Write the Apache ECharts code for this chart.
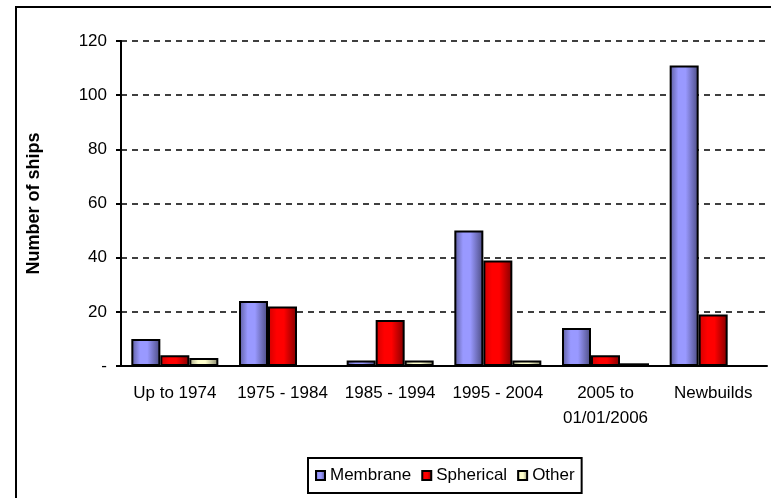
<!DOCTYPE html>
<html lang="en">
<head>
    <meta charset="UTF-8">
    <title>Number of ships</title>
    <script src="https://cdn.jsdelivr.net/npm/echarts@6/dist/echarts.min.js"></script>
    <style>
        html, body { margin: 0; padding: 0; background: #fff; }
        #main { width: 771px; height: 498px; }
    </style>
</head>
<body>
<div id="main"></div>
<script type="text/javascript">
    var categories = ['Up to 1974', '1975 - 1984', '1985 - 1994', '1995 - 2004', '2005 to\n01/01/2006', 'Newbuilds'];
    var membrane = [10, 24, 2, 50, 14, 111];
    var spherical = [4, 22, 17, 39, 4, 19];
    var other = [3, 0, 2, 2, 1, 0];

    var FONT = '"Liberation Sans", Arial, sans-serif';

    function shade(edgeL, mid, edgeR) {
        return new echarts.graphic.LinearGradient(0, 0, 1, 0, [
            {offset: 0, color: edgeL},
            {offset: 0.3, color: mid},
            {offset: 0.55, color: mid},
            {offset: 1, color: edgeR}
        ]);
    }

    function barSeries(name, data, fill) {
        return {
            name: name,
            type: 'bar',
            data: data,
            barWidth: 29,
            barGap: '0%',
            itemStyle: {color: fill, borderColor: '#000', borderWidth: 2}
        };
    }

    var myChart = echarts.init(document.getElementById('main'));
    var option = {
        animation: false,
        textStyle: {fontFamily: FONT, color: '#000'},
        graphic: [{
            type: 'rect',
            shape: {x: 16, y: 7, width: 800, height: 520},
            style: {fill: 'none', stroke: '#000', lineWidth: 2},
            silent: true,
            z: -1
        }],
        grid: {left: 121, top: 41, right: 4, bottom: 132},
        legend: {
            left: 308,
            top: 458,
            padding: [9, 7, 9, 7],
            borderColor: '#000',
            borderWidth: 2,
            itemWidth: 9,
            itemHeight: 9,
            itemGap: 10,
            icon: 'rect',
            textStyle: {fontFamily: FONT, fontSize: 17, color: '#000'},
            data: ['Membrane', 'Spherical', 'Other']
        },
        xAxis: {
            type: 'category',
            data: categories,
            axisLine: {lineStyle: {color: '#000', width: 2}},
            axisTick: {length: 5, lineStyle: {color: '#000', width: 2}},
            axisLabel: {fontSize: 17, color: '#000', margin: 15, lineHeight: 25, interval: 0}
        },
        yAxis: {
            type: 'value',
            min: 0,
            max: 120,
            interval: 20,
            name: 'Number of ships',
            nameLocation: 'middle',
            nameGap: 78,
            nameTextStyle: {fontFamily: FONT, fontSize: 18, fontWeight: 'bold', color: '#000'},
            axisLine: {show: true, lineStyle: {color: '#000', width: 2}},
            axisTick: {show: true, length: 5, lineStyle: {color: '#000', width: 2}},
            axisLabel: {
                fontSize: 17, color: '#000', margin: 14,
                formatter: function (v) { return v === 0 ? '-' : v; }
            },
            splitLine: {lineStyle: {color: '#000', width: 1.5, type: [6, 5]}}
        },
        series: [
            barSeries('Membrane', membrane, shade('#5c5c9c', '#9999ff', '#4a4a80')),
            barSeries('Spherical', spherical, shade('#d00000', '#ff0000', '#800000')),
            barSeries('Other', other, shade('#a3a382', '#ffffcc', '#85856a'))
        ]
    };
    myChart.setOption(option);
</script>
</body>
</html>
